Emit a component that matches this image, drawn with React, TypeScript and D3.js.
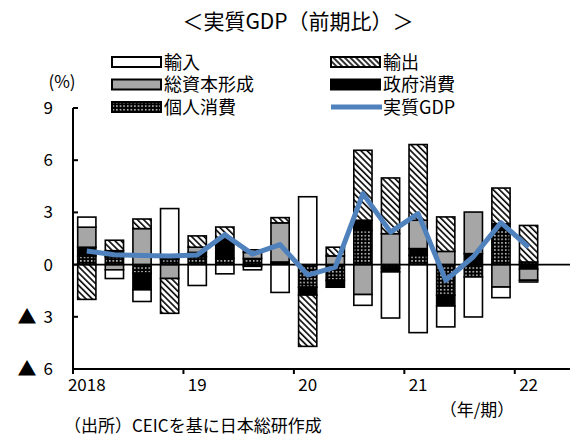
import React from "react";
import * as d3 from "d3";

const quarters = [
  "2018Q1","2018Q2","2018Q3","2018Q4",
  "2019Q1","2019Q2","2019Q3","2019Q4",
  "2020Q1","2020Q2","2020Q3","2020Q4",
  "2021Q1","2021Q2","2021Q3","2021Q4",
  "2022Q1","2022Q2",
];
const yearLabels = ["2018", "19", "20", "21", "22"];
const yTicks = [-6, -3, 0, 3, 6, 9];

const seriesNames = ["個人消費", "政府消費", "総資本形成", "輸出", "輸入"];
const privateCons = [0.5, 0.45, -0.5, 0.3, 0.45, 0.36, 0.35, 0.1, -1.3, -0.9, 1.97, -0.2, 0.53, -1.76, -0.71, 2.0, 0.15];
const govCons = [0.5, 0.35, -0.95, 0.1, 0.25, 1.1, -0.1, 0.05, -0.45, -0.4, 0.58, -0.22, 0.39, -0.62, 0.63, 0.35, -0.25];
const capForm = [1.15, -0.3, 2.07, -0.8, 0.3, 0.0, 0.35, 2.25, 0.0, 0.5, -1.72, 1.78, 1.63, 0.76, 2.39, -1.29, -0.65];
const exportsC = [-2.0, 0.6, 0.55, -2.0, 0.65, 0.7, 0.15, 0.3, -2.95, 0.5, 4.02, 3.2, 4.35, 1.98, 0.0, 2.05, 2.1];
const importsC = [0.58, -0.5, -0.67, 2.82, -1.2, -0.53, -0.2, -1.6, 3.9, 0.0, -0.62, -2.65, -3.91, -1.2, -2.3, -0.61, -0.1];
const realGDP = [0.78, 0.57, 0.53, 0.5, 0.55, 1.72, 0.6, 1.15, -0.6, -0.15, 4.08, 1.87, 2.93, -0.9, 0.45, 2.41, 1.0];

const FONT = "'Noto Sans CJK JP', 'Noto Sans', sans-serif";
const BLUE = "#4F81BD";
const GRAY = "#A6A6A6";

export default function App() {
  const left = 73, right = 570, top = 108, bottom = 369;
  const x = d3.scaleBand<string>().domain(quarters).range([left, right]).paddingInner(0.34).paddingOuter(0.17);
  const y = d3.scaleLinear().domain([-6, 9]).range([bottom, top]);
  const step = x.step();
  const gap = (step - x.bandwidth()) / 2;

  const rows = privateCons.map((_, i) => ({
    q: quarters[i],
    個人消費: privateCons[i],
    政府消費: govCons[i],
    総資本形成: capForm[i],
    輸出: exportsC[i],
    輸入: importsC[i],
  }));
  const stacked = d3.stack<any>().keys(seriesNames).offset(d3.stackOffsetDiverging)(rows);

  const fills: Record<string, string> = {
    個人消費: "url(#dots)",
    政府消費: "#000",
    総資本形成: GRAY,
    輸出: "url(#hatch)",
    輸入: "#fff",
  };

  const line = d3
    .line<number>()
    .x((_, i) => (x(quarters[i]) as number) + x.bandwidth() / 2)
    .y((d) => y(d));

  const legend = [
    { name: "輸入", col: 0, row: 0, fill: "#fff" },
    { name: "輸出", col: 1, row: 0, fill: "url(#hatchL)" },
    { name: "総資本形成", col: 0, row: 1, fill: GRAY },
    { name: "政府消費", col: 1, row: 1, fill: "#000" },
    { name: "個人消費", col: 0, row: 2, fill: "url(#dots)" },
    { name: "実質GDP", col: 1, row: 2, fill: "line" },
  ];
  const legX = [112, 331];
  const legY = [62, 84.5, 107];

  return (
    <svg width={572} height={447} style={{ position: "absolute", left: 0, top: 0, background: "#fff" }} fontFamily={FONT}>
      <defs>
        <pattern id="hatch" width="4.4" height="4.4" patternUnits="userSpaceOnUse" patternTransform="rotate(45)">
          <rect width="4.4" height="4.4" fill="#fff" />
          <line x1="0" y1="1" x2="4.4" y2="1" stroke="#000" strokeWidth="1.6" />
        </pattern>
        <pattern id="hatchL" width="4" height="4" patternUnits="userSpaceOnUse" patternTransform="rotate(45)">
          <rect width="4" height="4" fill="#fff" />
          <line x1="0" y1="1" x2="4" y2="1" stroke="#000" strokeWidth="1.6" />
        </pattern>
        <pattern id="dots" width="3.6" height="3.6" patternUnits="userSpaceOnUse">
          <rect width="3.6" height="3.6" fill="#000" />
          <rect x="1" y="1" width="1.4" height="1.4" fill="#fff" />
        </pattern>
      </defs>

      <text x={298} y={29} fontSize={21} textAnchor="middle" fill="#000">＜実質GDP（前期比）＞</text>

      {legend.map((l) => (
        <g key={l.name}>
          {l.fill === "line" ? (
            <line x1={legX[l.col]} x2={legX[l.col] + 51} y1={legY[l.row]} y2={legY[l.row]} stroke={BLUE} strokeWidth={5} />
          ) : (
            <rect x={legX[l.col]} y={legY[l.row] - 5} width={49} height={10} fill={l.fill} stroke="#000" strokeWidth={2} />
          )}
          <text x={legX[l.col] + 52} y={legY[l.row] + 6.5} fontSize={18} fill="#000">{l.name}</text>
        </g>
      ))}

      <text x={62} y={88} fontSize={17} textAnchor="middle" fill="#000">(%)</text>

      {stacked.map((s) => (
        <g key={s.key}>
          {s.map((d, i) => {
            const y0 = y(d[0]);
            const y1 = y(d[1]);
            if (Math.abs(y1 - y0) < 0.01) return null;
            return (
              <rect
                key={i}
                x={x(quarters[i])}
                y={Math.min(y0, y1)}
                width={x.bandwidth()}
                height={Math.abs(y1 - y0)}
                fill={fills[s.key]}
                stroke="#000"
                strokeWidth={1.6}
              />
            );
          })}
        </g>
      ))}

      <line x1={left} x2={right} y1={y(0)} y2={y(0)} stroke="#000" strokeWidth={1.8} />
      <line x1={left} x2={left} y1={top} y2={bottom} stroke="#000" strokeWidth={2} />
      <line x1={left} x2={right} y1={bottom} y2={bottom} stroke="#000" strokeWidth={2} />
      {yTicks.map((t) => (
        <g key={t}>
          <line x1={left} x2={left + 5} y1={y(t)} y2={y(t)} stroke="#000" strokeWidth={2} />
          <text x={53} y={y(t) + 6} fontSize={17} textAnchor="end" fill="#000">{Math.abs(t)}</text>
          {t < 0 && (
            <text x={27} y={y(t) + 7} fontSize={19} textAnchor="middle" fill="#000">▲</text>
          )}
        </g>
      ))}
      {yearLabels.map((lab, k) => {
        const q = quarters[k * 4];
        const xs = (x(q) as number) - gap;
        return (
          <g key={lab}>
            <line x1={xs} x2={xs} y1={bottom} y2={bottom + 5} stroke="#000" strokeWidth={2} />
            <text x={(x(q) as number) + x.bandwidth() / 2} y={391} fontSize={17} textAnchor="middle" fill="#000">{lab}</text>
          </g>
        );
      })}

      <path d={line(realGDP) || ""} fill="none" stroke={BLUE} strokeWidth={5} strokeLinejoin="round" />

      <text x={477} y={416} fontSize={17} textAnchor="middle" fill="#000">（年/期）</text>
      <text x={64} y={432} fontSize={17} fill="#000">（出所）CEICを基に日本総研作成</text>
    </svg>
  );
}
